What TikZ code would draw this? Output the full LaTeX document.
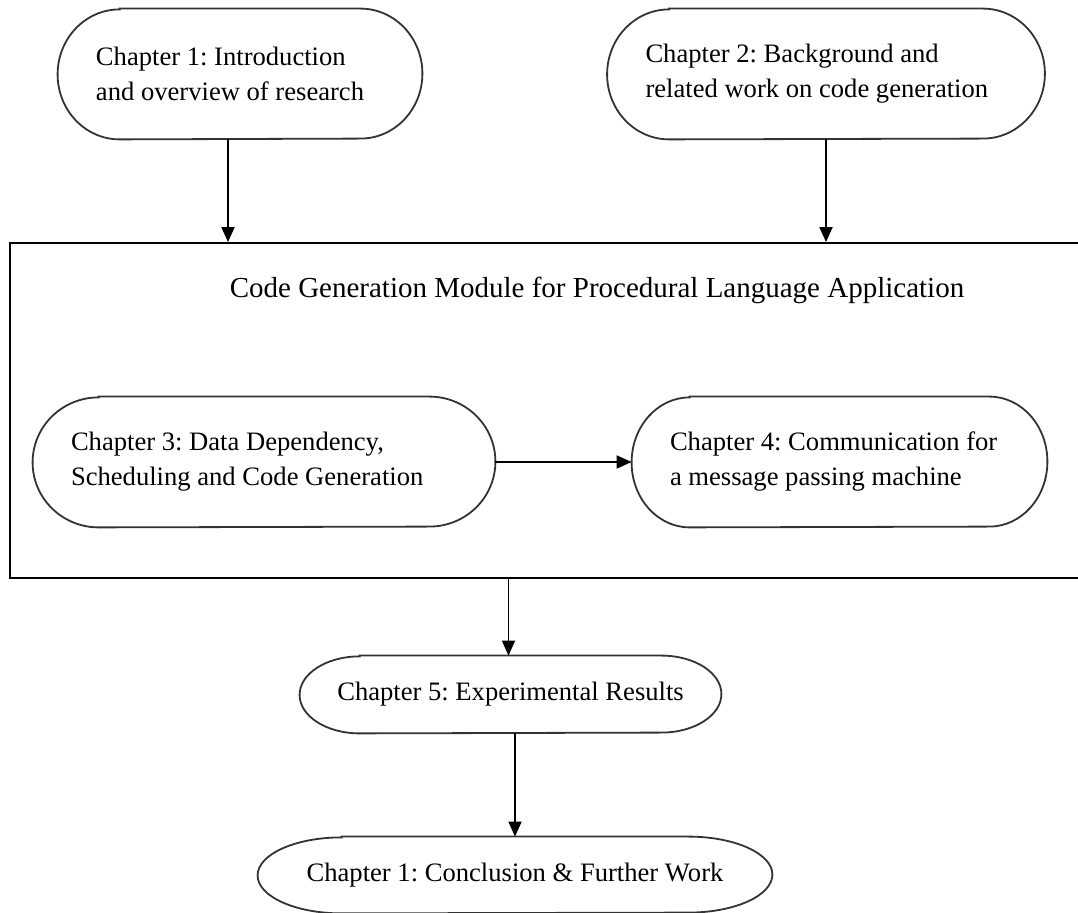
\documentclass[tikz,border=0pt]{standalone}
\usepackage{fontspec}
\setmainfont{Liberation Serif}
\usetikzlibrary{arrows.meta}
\tikzset{%
  >={Triangle[width=6.5pt,length=7.5pt]},
          base/.style = {rectangle, inner sep=0pt, align=left,
                         font=\fontsize{13.3}{17.5}\selectfont\frenchspacing},
  termbig/.style = {base, minimum height=65pt, inner xsep=19pt, align=flush left},
  termlow/.style = {base, minimum height=38.5pt},
  modbox/.style = {rectangle, draw=black, line width=0.9pt},
  rim/.style = {draw=black!80, line width=0.9pt},
  link/.style = {->, line width=0.9pt},
}
% outline with elliptic ends: node, x radius, y radius
\newcommand{\termshape}[3]{%
  \draw[rim] ([xshift=#2]#1.north west) -- ([xshift=-#2]#1.north east)
    arc[start angle=90, end angle=-90, x radius=#2, y radius=#3]
    -- ([xshift=#2]#1.south west)
    arc[start angle=270, end angle=90, x radius=#2, y radius=#3] -- cycle;}

\begin{document}
\begin{tikzpicture}[x=0.5pt, y=-0.5pt]
  \useasboundingbox (0,0) rectangle (1078,913);

  \node (module) [modbox, minimum width=587pt, minimum height=167.5pt] at (597,410.5) {};
  \node (title)  [base, font=\fontsize{14.5}{17.5}\selectfont] at (597,290) {Code Generation Module for Procedural Language Application};

  \node (intro)   [termbig, text width=144pt]   at (240,74)    {Chapter 1: Introduction\\and overview of research};
  \node (bground) [termbig, text width=180.5pt] at (826,74)    {Chapter 2: Background and\\related work on code generation};
  \node (depend)  [termbig, text width=193pt]   at (264,462)   {Chapter 3: Data Dependency,\\Scheduling and Code Generation};
  \node (comm)    [termbig, text width=169.5pt] at (839.5,462) {Chapter 4: Communication for\\a message passing machine};
  \node (results) [termlow, minimum width=210.5pt] at (510.5,694.5) {Chapter 5: Experimental Results};
  \node (concl)   [termlow, minimum width=257pt, minimum height=38pt] at (515,875) {Chapter 1: Conclusion \& Further Work};

  \termshape{intro}{31pt}{32.5pt}
  \termshape{bground}{31pt}{32.5pt}
  \termshape{depend}{33pt}{32.5pt}
  \termshape{comm}{29pt}{32.5pt}
  \termshape{results}{30pt}{19.25pt}
  \termshape{concl}{42pt}{19pt}

  \draw[link] ([xshift=-6pt]intro.south) -- ([xshift=-6pt]intro.south |- module.north);
  \draw[link] (bground) -- (bground |- module.north);
  \draw[link] (depend) -- (comm);
  \draw[link] ([xshift=-1pt]results.north |- module.south) -- ([xshift=-1pt]results.north);
  \draw[link] (concl.north |- results.south) -- (concl.north);
\end{tikzpicture}
\end{document}
